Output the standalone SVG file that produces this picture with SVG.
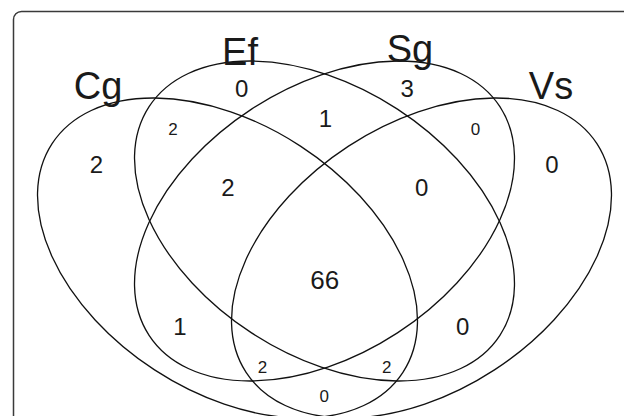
<svg xmlns="http://www.w3.org/2000/svg" width="624" height="416" viewBox="0 0 624 416">
  <style>
    .frame { fill: none; stroke: #3a3a3a; stroke-width: 1.5; }
    .set { fill: none; stroke: #111; stroke-width: 1.3; }
    text { font-family: "Liberation Sans", Arial, Helvetica, sans-serif; fill: #1a1a1a; text-anchor: middle; }
    .lbl { font-size: 38px; }
    .num { font-size: 24px; }
    .big { font-size: 26px; }
    .sm { font-size: 17px; }
  </style>
  <rect width="624" height="416" fill="#ffffff"/>
  <rect class="frame" x="13.5" y="11.5" width="700" height="500" rx="8" ry="8"/>

  <g id="set-Cg">
    <ellipse class="set" cx="227.5" cy="258" rx="209.4" ry="133.6" transform="rotate(33.1 227.5 258)"/>
    <text class="lbl" x="98" y="99">Cg</text>
  </g>
  <g id="set-Ef">
    <ellipse class="set" cx="324.5" cy="221" rx="209.4" ry="133.6" transform="rotate(33.1 324.5 221)"/>
    <text class="lbl" x="240" y="65">Ef</text>
  </g>
  <g id="set-Sg">
    <ellipse class="set" cx="324.5" cy="221" rx="209.4" ry="133.6" transform="rotate(-33.1 324.5 221)"/>
    <text class="lbl" x="410" y="62">Sg</text>
  </g>
  <g id="set-Vs">
    <ellipse class="set" cx="421.5" cy="258" rx="209.4" ry="133.6" transform="rotate(-33.1 421.5 258)"/>
    <text class="lbl" x="551" y="99">Vs</text>
  </g>

  <g id="counts">
    <text class="num" x="96.5" y="173">2</text>
    <text class="num" x="241.7" y="96.7">0</text>
    <text class="num" x="407.3" y="97.3">3</text>
    <text class="num" x="552" y="173">0</text>
    <text class="sm" x="173" y="135">2</text>
    <text class="sm" x="475.5" y="135">0</text>
    <text class="num" x="325.5" y="127">1</text>
    <text class="num" x="228" y="196">2</text>
    <text class="num" x="421.7" y="196">0</text>
    <text class="big" x="324.7" y="289.3">66</text>
    <text class="num" x="180" y="334.7">1</text>
    <text class="num" x="462.7" y="335.3">0</text>
    <text class="sm" x="262.5" y="373">2</text>
    <text class="sm" x="386.7" y="373">2</text>
    <text class="sm" x="324.3" y="402">0</text>
  </g>
</svg>
